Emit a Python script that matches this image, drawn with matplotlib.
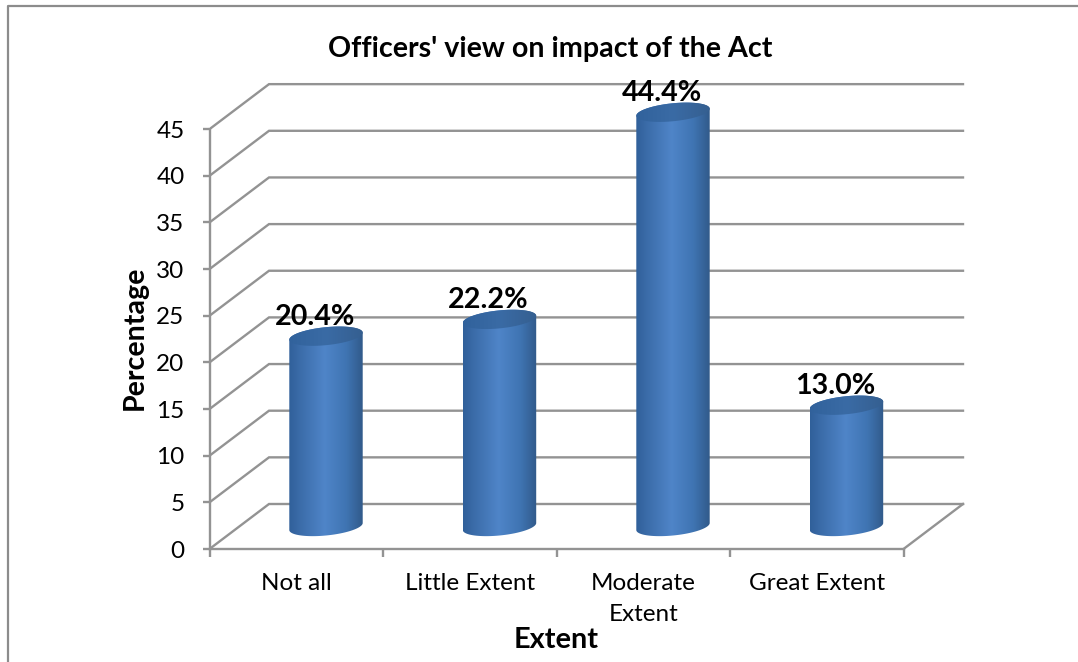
import numpy as np
import matplotlib
matplotlib.use("Agg")
import matplotlib.pyplot as plt
from matplotlib.colors import LinearSegmentedColormap
from matplotlib.lines import Line2D
from matplotlib.patches import PathPatch, Polygon
from matplotlib.path import Path

categories = ["Not all", "Little Extent", "Moderate\nExtent", "Great Extent"]
percentages = [20.4, 22.2, 44.4, 13.0]
y_ticks = [0, 5, 10, 15, 20, 25, 30, 35, 40, 45]

title = "Officers' view on impact of the Act"
x_title = "Extent"
y_title = "Percentage"

W, H = 1078, 662
GRID = "#939393"
LINE_W = 1.7
plt.rcParams["font.family"] = ["Lato", "DejaVu Sans"]

fig = plt.figure(figsize=(W / 100, H / 100), dpi=100, facecolor="white")

# Pixel scale of the front plane of the 3-D box
left_px, base_px = 209.5, 549.0
cat_px, unit_px = 173.5, 9.33
xmax, ymax = 4.5, 52.0
ax = fig.add_axes([left_px / W, (H - base_px) / H,
                   xmax * cat_px / W, ymax * unit_px / H])
ax.set_xlim(0, xmax)
ax.set_ylim(0, ymax)
ax.patch.set_visible(False)

# Depth of the box and the cylinder shape, in data units
depth_x, depth_y = 59.5 / cat_px, 45.0 / unit_px
radius_x, radius_y = 36.7 / cat_px, 9.0 / unit_px
tilt = 3.5 / unit_px

for s in ("top", "right"):
    ax.spines[s].set_visible(False)
for s in ("left", "bottom"):
    ax.spines[s].set_color(GRID)
    ax.spines[s].set_linewidth(LINE_W)
ax.spines["left"].set_bounds(0, 45)
ax.spines["bottom"].set_bounds(0, 4)

ax.set_yticks(y_ticks)
ax.set_xticks(range(5), [""] * 5)
ax.set_xticks(np.arange(4) + 0.5, categories, minor=True)
ax.tick_params(axis="y", length=5, width=LINE_W, color=GRID, labelsize=17.5, pad=13)
ax.tick_params(axis="x", which="major", length=6, width=LINE_W, color=GRID)
ax.tick_params(axis="x", which="minor", length=0, labelsize=17.5, pad=17)
for lab in ax.get_xticklabels(minor=True):
    lab.set_linespacing(1.6)

# Side wall and back wall gridlines
for v in y_ticks:
    ax.plot([0, depth_x, 4 + depth_x], [v, v + depth_y, v + depth_y],
            color=GRID, lw=LINE_W, solid_joinstyle="miter", zorder=1)
ax.plot([4, 4 + depth_x], [0, depth_y], color=GRID, lw=LINE_W, zorder=1)

body_cmap = LinearSegmentedColormap.from_list(
    "body", [(0, "#30609a"), (0.15, "#3b6ca9"), (0.48, "#4f85c8"),
             (0.78, "#3f74b2"), (1, "#315a8a")])
cap_cmap = LinearSegmentedColormap.from_list(
    "cap", [(0, "#31629c"), (0.5, "#3a6ba5"), (1, "#355f90")])
shade = np.linspace(0, 1, 256).reshape(1, -1)


def ellipse_points(cx, cy, t):
    return np.column_stack([cx + radius_x * np.cos(t),
                            cy + radius_y * np.sin(t) + tilt * np.cos(t)])


for i, value in enumerate(percentages):
    cx = i + 0.5 + depth_x / 2
    cy0 = depth_y / 2
    cy1 = value + depth_y / 2

    # Body: lower half of the base ellipse joined to the upper half of the top
    lower = ellipse_points(cx, cy0, np.linspace(np.pi, 2 * np.pi, 80))
    upper = ellipse_points(cx, cy1, np.linspace(0, np.pi, 80))
    outline = np.vstack([lower, upper, lower[:1]])
    body = PathPatch(Path(outline, closed=True), fc="none", ec="none",
                     transform=ax.transData)
    ax.add_patch(body)
    extent = [cx - radius_x, cx + radius_x, cy0 - 3, cy1 + 3]
    im = ax.imshow(shade, cmap=body_cmap, extent=extent, aspect="auto",
                   interpolation="bilinear", zorder=3)
    im.set_clip_path(body)

    # Top cap of the cylinder
    cap_pts = ellipse_points(cx, cy1, np.linspace(0, 2 * np.pi, 160))
    cap = Polygon(cap_pts, closed=True, fc="none", ec="none",
                  transform=ax.transData)
    ax.add_patch(cap)
    cap_im = ax.imshow(shade, cmap=cap_cmap, extent=extent, aspect="auto",
                       interpolation="bilinear", zorder=4)
    cap_im.set_clip_path(cap)

    ax.annotate(f"{value:.1f}%", (cx, cy1), xytext=(-8, 14),
                textcoords="offset points", ha="center", va="center",
                fontsize=20.6, fontweight="bold", color="black", zorder=5)

ax.set_xlim(0, xmax)
ax.set_ylim(0, ymax)

to_fig = fig.transFigure
ax.set_ylabel(y_title, fontsize=20.6, fontweight="bold", labelpad=0)
ax.yaxis.set_label_coords(148 / W, 1 - 338 / H, transform=to_fig)
ax.set_xlabel(x_title, fontsize=20.8, fontweight="bold", va="center")
ax.xaxis.set_label_coords(556 / W, 1 - 640 / H, transform=to_fig)
fig.text(550 / W, 1 - 48.5 / H, title, ha="center", va="center",
         fontsize=20.6, fontweight="bold", color="black")

# Outer chart frame, left and top sides only within the canvas
fig.add_artist(Line2D([7.5 / W, 7.5 / W, 1], [0, 1 - 6 / H, 1 - 6 / H],
                      transform=to_fig, color="#8c8c8c", lw=1.6))

fig.savefig("out.png", dpi=100)
